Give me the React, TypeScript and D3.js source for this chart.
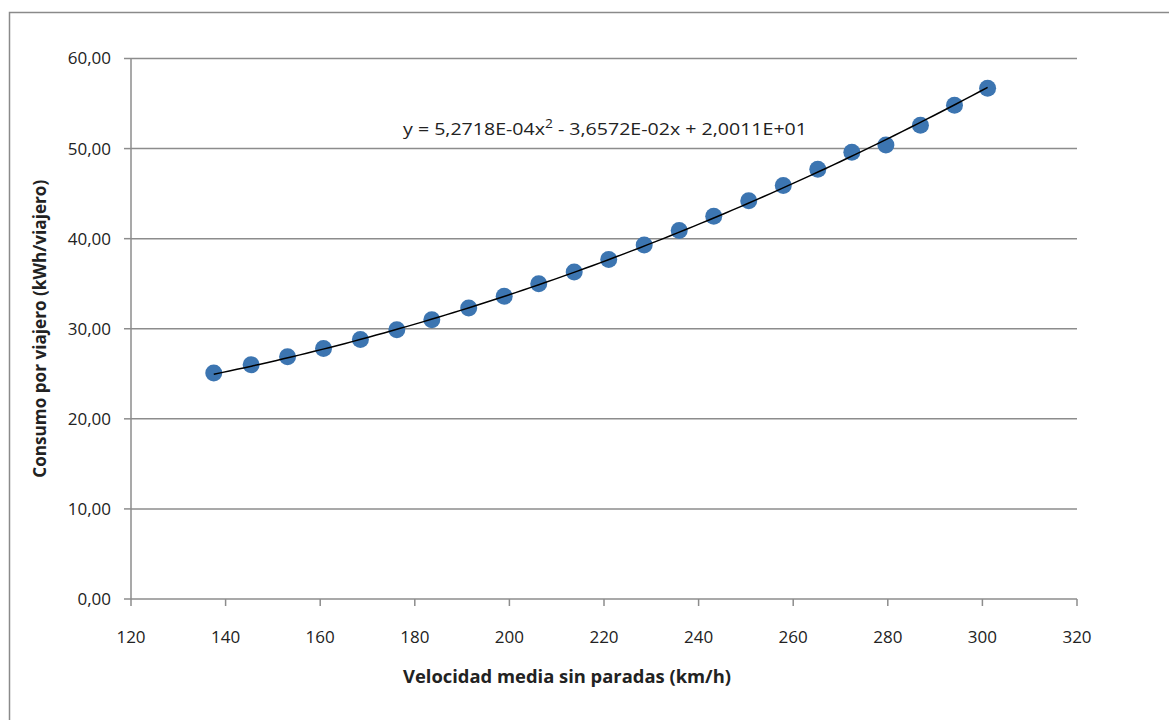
import React from "react";
import * as d3 from "d3";

const speeds = [137.5, 145.4, 153.1, 160.7, 168.5, 176.2, 183.6, 191.4, 198.9, 206.2, 213.7, 221.0, 228.5, 235.9, 243.2, 250.6, 257.9, 265.2, 272.4, 279.6, 286.9, 294.1, 301.1];
const consumption = [25.1, 26.0, 26.9, 27.8, 28.8, 29.9, 31.0, 32.3, 33.6, 35.0, 36.3, 37.7, 39.3, 40.9, 42.5, 44.2, 45.9, 47.7, 49.6, 50.4, 52.6, 54.8, 56.7];
const xTicks = [120, 140, 160, 180, 200, 220, 240, 260, 280, 300, 320];
const yTicks = [0, 10, 20, 30, 40, 50, 60];
const trendCoefs = [5.2718e-4, -3.6572e-2, 2.0011e1];
const xTitle = "Velocidad media sin paradas (km/h)";
const yTitle = "Consumo por viajero (kWh/viajero)";

const W = 1169, H = 720;
const left = 131, right = 1077, top = 58.5, bottom = 599;

export default function App() {
  const x = d3.scaleLinear().domain([120, 320]).range([left, right]);
  const y = d3.scaleLinear().domain([0, 60]).range([bottom, top]);
  const fmt = (v: number) => v.toFixed(2).replace(".", ",");
  const [a, b, c] = trendCoefs;
  const x0 = d3.min(speeds)!, x1 = d3.max(speeds)!;
  const trendPts = d3.range(0, 101).map(i => {
    const xv = x0 + (x1 - x0) * i / 100;
    return [xv, a * xv * xv + b * xv + c] as [number, number];
  });
  const line = d3.line<[number, number]>().x(d => x(d[0])).y(d => y(d[1])).curve(d3.curveMonotoneX);
  const font = "'Open Sans', 'DejaVu Sans', sans-serif";
  const data = speeds.map((s, i) => [s, consumption[i]]);
  return (
    <svg width={W} height={H} style={{ position: "absolute", left: 0, top: 0, background: "#fff" }}>
      <rect x={9.5} y={12.5} width={W + 20} height={H + 20} fill="#fff" stroke="#8a8a8a" strokeWidth={1.5} />
      {yTicks.filter(t => t > 0).map(t => (
        <line key={t} x1={left} x2={right} y1={y(t)} y2={y(t)} stroke="#8c8c8c" strokeWidth={1.5} />
      ))}
      <line x1={left} x2={left} y1={top} y2={bottom} stroke="#8c8c8c" strokeWidth={1.5} />
      <line x1={left} x2={right} y1={bottom} y2={bottom} stroke="#8c8c8c" strokeWidth={1.5} />
      {yTicks.map(t => (
        <g key={t}>
          <line x1={left - 7} x2={left} y1={y(t)} y2={y(t)} stroke="#8c8c8c" strokeWidth={1.5} />
          <text x={111} y={y(t)} dy="0.35em" textAnchor="end" fontFamily={font} fontSize={17} fill="#222">{fmt(t)}</text>
        </g>
      ))}
      {xTicks.map(t => (
        <g key={t}>
          <line x1={x(t)} x2={x(t)} y1={bottom} y2={bottom + 7} stroke="#8c8c8c" strokeWidth={1.5} />
          <text x={x(t)} y={637} dy="0.35em" textAnchor="middle" fontFamily={font} fontSize={17} fill="#222">{t}</text>
        </g>
      ))}
      {data.map((d, i) => (
        <circle key={i} cx={x(d[0])} cy={y(d[1])} r={8.5} fill="#3c75b1" />
      ))}
      <path d={line(trendPts)!} fill="none" stroke="#000" strokeWidth={1.5} />
      <text x={403} y={135} fontFamily={font} fontSize={17} fill="#222" textLength={404} lengthAdjust="spacingAndGlyphs">
        y = 5,2718E-04x<tspan dy={-7} fontSize={12}>2</tspan><tspan dy={7}> - 3,6572E-02x + 2,0011E+01</tspan>
      </text>
      <text x={567} y={677} dy="0.35em" textAnchor="middle" fontFamily={font} fontWeight="bold" fontSize={17} fill="#222" textLength={328} lengthAdjust="spacingAndGlyphs">{xTitle}</text>
      <text transform={`translate(40,${(top + bottom) / 2}) rotate(-90)`} dy="0.35em" textAnchor="middle" fontFamily={font} fontWeight="bold" fontSize={17} fill="#222" textLength={298} lengthAdjust="spacingAndGlyphs">{yTitle}</text>
    </svg>
  );
}
